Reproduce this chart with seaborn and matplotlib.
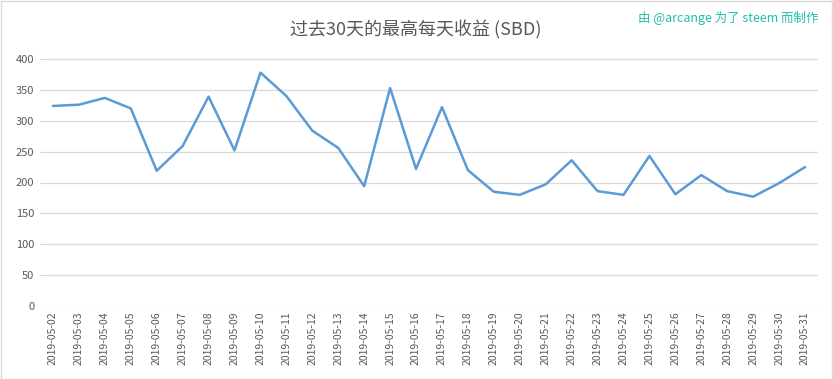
import matplotlib
matplotlib.use("Agg")
import matplotlib.pyplot as plt
import seaborn as sns
import pandas as pd

dates = ["2019-05-02", "2019-05-03", "2019-05-04", "2019-05-05", "2019-05-06",
         "2019-05-07", "2019-05-08", "2019-05-09", "2019-05-10", "2019-05-11",
         "2019-05-12", "2019-05-13", "2019-05-14", "2019-05-15", "2019-05-16",
         "2019-05-17", "2019-05-18", "2019-05-19", "2019-05-20", "2019-05-21",
         "2019-05-22", "2019-05-23", "2019-05-24", "2019-05-25", "2019-05-26",
         "2019-05-27", "2019-05-28", "2019-05-29", "2019-05-30", "2019-05-31"]
values = [324, 326, 337, 320, 219, 259, 339, 252, 378, 340,
          284, 256, 194, 353, 222, 322, 220, 185, 180, 197,
          236, 186, 180, 243, 181, 212, 186, 177, 199, 225]
yticks = [0, 50, 100, 150, 200, 250, 300, 350, 400]

sns.set_theme(style="white")
plt.rcParams['font.family'] = ['Noto Sans CJK SC', 'DejaVu Sans']

df = pd.DataFrame({"date": dates, "value": values})
df["pos"] = range(len(dates))

fig = plt.figure(figsize=(8.33, 3.79), dpi=100)
ax = fig.add_axes([40 / 833, 1 - 306 / 379, 778 / 833, 247 * 1.125 / 379])

for y in yticks:
    ax.axhline(y, color="#d9d9d9", lw=0.9, zorder=0)

sns.lineplot(data=df, x="pos", y="value", ax=ax, color="#5b9bd5", lw=1.8)

ax.set_xlim(-0.5, len(dates) - 0.5)
ax.set_ylim(0, 450)
ax.set_yticks(yticks)
ax.set_yticklabels([str(v) for v in yticks], fontsize=8, color="#595959")
ax.set_xticks(df["pos"])
ax.set_xticklabels(dates, rotation=90, fontsize=7.5, color="#595959")
ax.tick_params(axis="both", length=0, pad=4)
ax.set_xlabel("")
ax.set_ylabel("")
for s in ax.spines.values():
    s.set_visible(False)

fig.text(416 / 833, 1 - 30 / 379, "过去30天的最高每天收益 (SBD)", ha="center", va="center",
         fontsize=13, color="#595959")
fig.text(818 / 833, 1 - 18 / 379, "由 @arcange 为了 steem 而制作", ha="right", va="center",
         fontsize=9, color="#1fbfa8")

border = plt.Rectangle((0.5 / 833, 0.5 / 379), 1 - 1.5 / 833, 1 - 1.5 / 379,
                       transform=fig.transFigure, fill=False, edgecolor="#d9d9d9", lw=1)
fig.patches.append(border)

fig.savefig("out.png", dpi=100)
